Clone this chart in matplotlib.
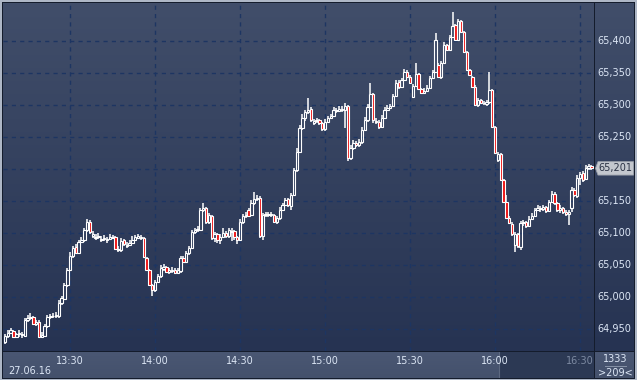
import numpy as np
import matplotlib
matplotlib.use('Agg')
import matplotlib.pyplot as plt
from matplotlib.patches import Rectangle, Polygon

# minute candles 13:07 .. 16:34, prices of the index
opens = [64930, 64939, 64944, 64947, 64937, 64942, 64941, 64939, 64964, 64967,
         64969, 64958, 64961, 64937, 64939, 64955, 64969, 64970, 64970, 64970,
         64991, 64997, 65019, 65042, 65064, 65078, 65069, 65086, 65089, 65105,
         65117, 65095, 65092, 65094, 65089, 65091, 65089, 65091, 65092, 65094,
         65073, 65073, 65089, 65080, 65081, 65084, 65089, 65092, 65092, 65092,
         65061, 65042, 65019, 65011, 65023, 65033, 65044, 65047, 65039, 65041,
         65042, 65037, 65041, 65061, 65055, 65069, 65076, 65102, 65105, 65105,
         65136, 65139, 65117, 65127, 65092, 65098, 65089, 65094, 65100, 65095,
         65102, 65103, 65094, 65089, 65117, 65127, 65136, 65128, 65147, 65153,
         65155, 65095, 65128, 65130, 65128, 65128, 65117, 65123, 65136, 65144,
         65153, 65142, 65159, 65198, 65227, 65264, 65280, 65289, 65294, 65272,
         65275, 65276, 65272, 65262, 65273, 65280, 65283, 65292, 65291, 65292,
         65292, 65298, 65217, 65233, 65241, 65237, 65242, 65261, 65276, 65297,
         65317, 65275, 65273, 65266, 65280, 65292, 65295, 65298, 65314, 65336,
         65328, 65339, 65351, 65344, 65312, 65330, 65348, 65325, 65319, 65322,
         65326, 65342, 65351, 65362, 65344, 65366, 65394, 65386, 65406, 65425,
         65401, 65431, 65414, 65383, 65355, 65344, 65328, 65300, 65308, 65303,
         65301, 65305, 65323, 65266, 65214, 65223, 65183, 65148, 65123, 65114,
         65081, 65098, 65078, 65116, 65117, 65111, 65122, 65127, 65136, 65139,
         65137, 65141, 65134, 65148, 65161, 65147, 65136, 65139, 65133, 65130,
         65139, 65167, 65158, 65186, 65194, 65184, 65201, 65205]
closes = [64939, 64944, 64948, 64937, 64942, 64944, 64941, 64964, 64967, 64969,
          64958, 64961, 64937, 64941, 64955, 64969, 64970, 64970, 64972, 64991,
          64998, 65019, 65042, 65064, 65076, 65069, 65086, 65089, 65105, 65117,
          65102, 65098, 65094, 65095, 65091, 65092, 65091, 65094, 65094, 65075,
          65075, 65087, 65083, 65081, 65084, 65089, 65094, 65095, 65094, 65062,
          65042, 65019, 65011, 65023, 65033, 65045, 65047, 65039, 65042, 65042,
          65037, 65042, 65061, 65055, 65069, 65076, 65102, 65105, 65106, 65136,
          65139, 65117, 65128, 65092, 65098, 65089, 65094, 65100, 65095, 65105,
          65103, 65094, 65089, 65117, 65127, 65128, 65127, 65147, 65153, 65155,
          65095, 65128, 65130, 65128, 65130, 65117, 65123, 65136, 65144, 65152,
          65144, 65159, 65198, 65227, 65264, 65280, 65289, 65292, 65276, 65275,
          65276, 65272, 65262, 65273, 65280, 65283, 65292, 65291, 65294, 65294,
          65298, 65217, 65233, 65241, 65237, 65242, 65261, 65276, 65297, 65317,
          65276, 65273, 65266, 65280, 65292, 65295, 65298, 65314, 65334, 65328,
          65339, 65351, 65344, 65334, 65330, 65348, 65325, 65319, 65322, 65326,
          65342, 65351, 65401, 65344, 65366, 65394, 65386, 65406, 65423, 65401,
          65431, 65414, 65383, 65355, 65347, 65328, 65300, 65308, 65303, 65303,
          65305, 65323, 65266, 65225, 65223, 65183, 65148, 65123, 65116, 65098,
          65098, 65080, 65116, 65117, 65111, 65122, 65127, 65136, 65139, 65137,
          65141, 65134, 65148, 65161, 65147, 65136, 65139, 65133, 65130, 65133,
          65167, 65159, 65186, 65192, 65183, 65201, 65205, 65201]
highs = [64942, 64948, 64952, 64948, 64944, 64948, 64945, 64967, 64972, 64975,
         64970, 64964, 64964, 64945, 64958, 64972, 64973, 64975, 64976, 64995,
         65001, 65022, 65045, 65070, 65080, 65083, 65089, 65094, 65108, 65122,
         65120, 65103, 65098, 65100, 65095, 65097, 65094, 65098, 65097, 65095,
         65080, 65092, 65091, 65086, 65089, 65095, 65097, 65098, 65097, 65094,
         65062, 65044, 65020, 65026, 65036, 65050, 65051, 65048, 65045, 65047,
         65045, 65045, 65064, 65064, 65072, 65080, 65105, 65108, 65111, 65139,
         65147, 65141, 65131, 65128, 65102, 65100, 65098, 65108, 65103, 65108,
         65108, 65105, 65095, 65122, 65130, 65133, 65139, 65152, 65164, 65159,
         65158, 65131, 65133, 65133, 65133, 65130, 65127, 65141, 65147, 65155,
         65155, 65162, 65201, 65233, 65269, 65286, 65292, 65311, 65297, 65278,
         65280, 65278, 65273, 65278, 65283, 65286, 65297, 65295, 65298, 65298,
         65303, 65300, 65237, 65245, 65244, 65247, 65266, 65281, 65301, 65334,
         65319, 65280, 65276, 65284, 65297, 65300, 65301, 65317, 65339, 65339,
         65342, 65356, 65355, 65347, 65333, 65366, 65350, 65326, 65326, 65331,
         65345, 65355, 65412, 65366, 65369, 65398, 65395, 65409, 65445, 65426,
         65434, 65433, 65416, 65384, 65356, 65345, 65331, 65311, 65309, 65306,
         65308, 65351, 65325, 65267, 65227, 65225, 65184, 65159, 65127, 65117,
         65102, 65100, 65119, 65120, 65119, 65127, 65131, 65139, 65144, 65142,
         65144, 65142, 65152, 65166, 65164, 65148, 65144, 65141, 65136, 65136,
         65172, 65170, 65191, 65195, 65197, 65206, 65208, 65206]
lows = [64927, 64936, 64942, 64936, 64936, 64937, 64936, 64937, 64961, 64964,
        64956, 64955, 64936, 64936, 64937, 64952, 64966, 64967, 64967, 64967,
        64987, 64995, 65016, 65041, 65061, 65067, 65067, 65084, 65086, 65102,
        65098, 65092, 65089, 65091, 65086, 65087, 65084, 65089, 65091, 65073,
        65070, 65070, 65080, 65076, 65080, 65084, 65087, 65091, 65089, 65061,
        65041, 65017, 65001, 65008, 65022, 65030, 65041, 65037, 65036, 65037,
        65036, 65036, 65037, 65053, 65053, 65066, 65075, 65098, 65102, 65103,
        65133, 65114, 65114, 65089, 65086, 65084, 65083, 65092, 65092, 65092,
        65087, 65089, 65083, 65087, 65114, 65123, 65125, 65127, 65144, 65150,
        65092, 65089, 65125, 65125, 65125, 65116, 65114, 65120, 65134, 65142,
        65141, 65136, 65158, 65195, 65225, 65261, 65275, 65286, 65273, 65269,
        65272, 65269, 65259, 65259, 65272, 65278, 65281, 65287, 65289, 65289,
        65264, 65212, 65214, 65230, 65234, 65234, 65239, 65259, 65273, 65295,
        65272, 65270, 65262, 65264, 65278, 65291, 65294, 65297, 65312, 65325,
        65326, 65337, 65342, 65333, 65311, 65328, 65323, 65317, 65317, 65320,
        65325, 65341, 65350, 65342, 65341, 65364, 65384, 65384, 65405, 65400,
        65400, 65412, 65381, 65353, 65345, 65326, 65298, 65297, 65301, 65300,
        65298, 65301, 65264, 65223, 65211, 65181, 65147, 65122, 65114, 65095,
        65070, 65076, 65073, 65111, 65108, 65109, 65120, 65125, 65134, 65133,
        65134, 65131, 65133, 65147, 65144, 65133, 65131, 65130, 65127, 65112,
        65133, 65156, 65155, 65175, 65180, 65183, 65198, 65198]

time_labels = ['13:30', '14:00', '14:30', '15:00', '15:30', '16:00', '16:30']
time_pos = [23, 53, 83, 113, 143, 173, 203]   # candle index of each label
price_ticks = [64950, 65000, 65050, 65100, 65150, 65200, 65250, 65300, 65350, 65400]
last_price = 65201
date_label = '27.06.16'
counter_top = '1333'
counter_bottom = '>209<'

W, H = 637, 380
fig = plt.figure(figsize=(W / 100, H / 100), dpi=100)
fig.patch.set_facecolor('#aeb7c6')

def px_axes(x0, y0, x1, y1):
    return fig.add_axes([x0 / W, 1 - y1 / H, (x1 - x0) / W, (y1 - y0) / H])

# frame line behind panels
frame = px_axes(2, 2, 635, 379)
frame.set_facecolor('#141c2c')
frame.set_xticks([]); frame.set_yticks([])
for s in frame.spines.values():
    s.set_visible(False)

ax = px_axes(3, 3, 594, 351)
rax = px_axes(595, 3, 634, 351)
bax = px_axes(3, 352, 594, 378)
cax = px_axes(595, 352, 634, 378)

def gradient(a, top, bottom):
    g = np.linspace(0, 1, 256)[:, None]
    c0 = np.array(matplotlib.colors.to_rgb(top))
    c1 = np.array(matplotlib.colors.to_rgb(bottom))
    img = c0[None, None, :] * (1 - g[..., None]) + c1[None, None, :] * g[..., None]
    a.imshow(img, extent=[0, 1, 0, 1], transform=a.transAxes, aspect='auto', zorder=0)

for a in (ax, rax, bax, cax):
    a.set_xticks([]); a.set_yticks([])
    for s in a.spines.values():
        s.set_visible(False)

gradient(ax, '#414e6a', '#263352')
gradient(rax, '#414e6a', '#263352')
gradient(bax, '#4a5773', '#44516c')
gradient(cax, '#4a5773', '#44516c')

n = len(closes)
x = np.arange(n)
ax.set_xlim(-0.7, 207.9)
ylo = 65400 - (351 - 41) / 0.64
yhi = 65400 + (41 - 3) / 0.64
ax.set_ylim(ylo, yhi)

grid_col = '#1d3562'
for p in price_ticks:
    ax.axhline(p, color=grid_col, lw=1, ls=(0, (3, 3)), zorder=1)
for t in time_pos:
    ax.axvline(t, color=grid_col, lw=1, ls=(0, (3, 3)), zorder=1)

o = np.array(opens); c = np.array(closes); h = np.array(highs); l = np.array(lows)
top = np.maximum(o, c); bot = np.minimum(o, c)
ax.vlines(x, top, h, color='white', lw=1.1, zorder=3)
ax.vlines(x, l, bot, color='white', lw=1.1, zorder=3)
for i in range(n):
    fc = '#ee1111' if c[i] < o[i] else 'none'
    hgt = max(top[i] - bot[i], 0.8)
    ax.add_patch(Rectangle((x[i] - 0.42, bot[i]), 0.84, hgt, facecolor=fc,
                           edgecolor='white', lw=0.8, zorder=4))

# right price scale
rax.set_ylim(ylo, yhi)
rax.set_xlim(0, 39)
txt_col = '#dce6f5'
for p in price_ticks:
    if p == 65200:
        continue
    rax.text(2, p, f'{p:,}', color=txt_col, fontsize=7, va='center', ha='left')
rax.add_patch(Polygon([[0.5, last_price], [3, last_price + 10.5], [38.5, last_price + 10.5],
                       [38.5, last_price - 10.5], [3, last_price - 10.5]],
                      closed=True, facecolor='#c3c7ce', edgecolor='#9aa0aa', lw=0.6, zorder=3))
rax.text(3.5, last_price, f'{last_price:,}', color='#2a3244', fontsize=7, va='center', ha='left', zorder=4)

# bottom time scale
bax.set_xlim(ax.get_xlim())
bax.set_ylim(0, 26)
bax.add_patch(Rectangle((174.4, 0), 40, 26, facecolor='#2c3954', edgecolor='none', zorder=1))
bax.axvline(174.4, color='#5c6880', lw=0.8, zorder=2)
for lab, t in zip(time_labels, time_pos):
    col = '#7d8aa2' if lab == '16:30' else txt_col
    bax.text(t, 17.5, lab, color=col, fontsize=7, ha='center', va='center', zorder=3)
bax.text(1.2, 6.5, date_label, color=txt_col, fontsize=7, ha='left', va='center')

cax.set_xlim(0, 39)
cax.set_ylim(0, 26)
cax.text(20, 18.5, counter_top, color=txt_col, fontsize=7, ha='center', va='center')
cax.plot([10, 31], [12.5, 12.5], color='#8893a8', lw=0.7)
cax.text(20, 5.5, counter_bottom, color=txt_col, fontsize=7, ha='center', va='center')

fig.savefig('out.png', dpi=100, facecolor=fig.get_facecolor())
